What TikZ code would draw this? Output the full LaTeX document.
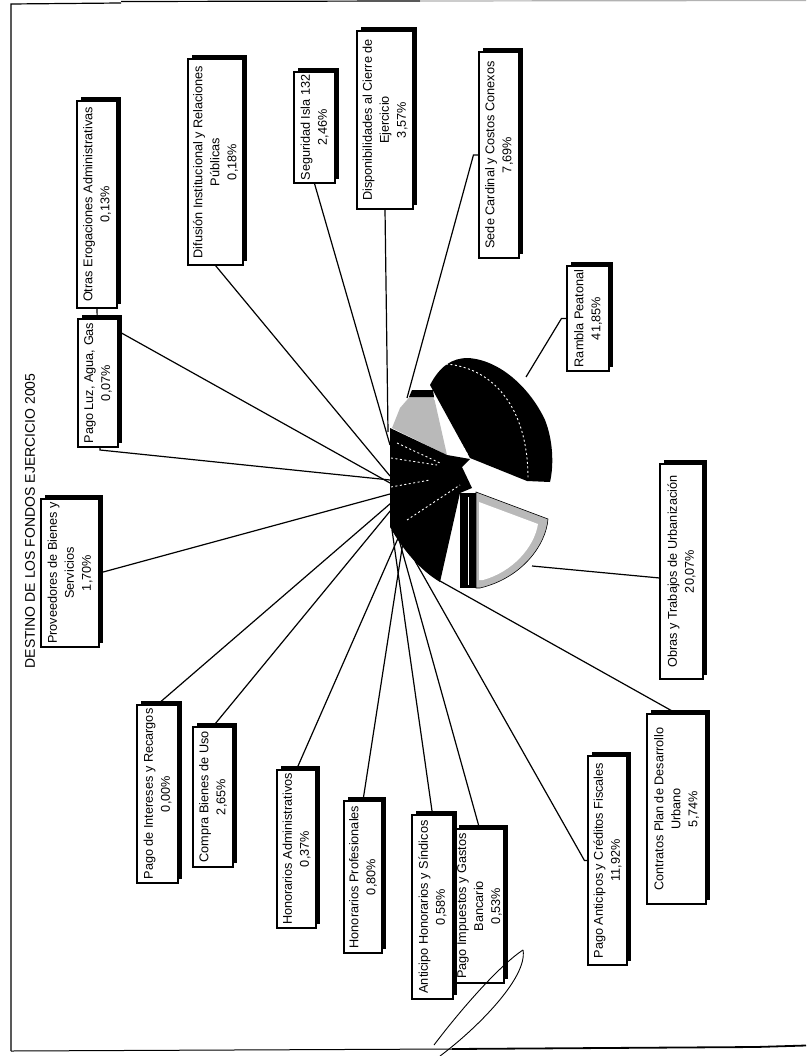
\documentclass[tikz,border=0pt]{standalone}
\usepackage{fontspec}
\setmainfont{Liberation Sans}
\usetikzlibrary{calc}
\pgfdeclarelayer{paper}
\pgfdeclarelayer{bg}
\pgfsetlayers{paper,bg,main}
\tikzset{
  lbl/.style={draw=black, line width=1.1pt, fill=white, rotate=90, inner sep=1pt,
    align=center, font=\fontsize{12.7}{17}\selectfont, text=black},
  boxshadow/.style={fill=black},
  leader/.style={draw=black, line width=1.2pt},
  pieblack/.style={fill=black},
  piehatch/.style={fill=gray!55},
  sliceedge/.style={draw=white, line width=0.9pt, dash pattern=on 2pt off 2.5pt},
  frameline/.style={draw=black, line width=1.2pt},
  scribble/.style={draw=black, line width=0.9pt},
  titletext/.style={rotate=90, inner sep=0pt, font=\fontsize{14}{16}\selectfont}
}
\newcommand{\lblbox}[6]{%
  \pgfmathsetmacro{\lbw}{#5-(#3+4)}%
  \pgfmathsetmacro{\lbh}{(#4-4)-#2}%
  \pgfmathsetmacro{\lbcx}{(#2+#4-4)/2}%
  \pgfmathsetmacro{\lbcy}{(#3+4+#5)/2}%
  \fill[boxshadow] (#2+4,#3) rectangle (#4,#5-4);%
  \node[lbl, minimum width=\lbw pt, minimum height=\lbh pt] (#1) at (\lbcx,\lbcy) {#6};%
}
\begin{document}
\begin{tikzpicture}[x=1pt,y=-1pt]
\useasboundingbox (0,0) rectangle (806,1056);
\begin{pgfonlayer}{paper}
\fill[white] (0,0) rectangle (806,1056);
\end{pgfonlayer}

% frame
\draw[frameline] (11,1051) -- (11,4) -- (121,3);
\draw[frameline] (121,1.5) -- (420,1);
\draw[gray!60, line width=1.2pt] (420,1) -- (806,0.5);
\draw[black, line width=1pt] (11,1051) -- (452,1049);
\draw[black, line width=1.8pt] (452,1049) -- (756,1047) -- (806,1045.5);

% title
\node[titletext] (title) at (30,521) {DESTINO DE LOS FONDOS EJERCICIO 2005};

% label boxes (outer extents incl. shadow: x1,y1,x2,y2)
\lblbox{otros}{77}{97}{121}{308}{Otras Erogaciones Administrativas\\0,13\%}
\lblbox{pagoluz}{78}{315}{122}{447}{Pago Luz, Agua, Gas\\0,07\%}
\lblbox{prov}{41}{495}{103}{647}{Proveedores de Bienes y\\Servicios\\1,70\%}
\lblbox{dif}{188}{55}{247}{265}{Difusión Institucional y Relaciones\\Públicas\\0,18\%}
\lblbox{seg}{294}{68}{339}{183}{Seguridad Isla 132\\2,46\%}
\lblbox{disp}{357}{27}{417}{209}{Disponibilidades al Cierre de\\Ejercicio\\3,57\%}
\lblbox{sede}{479}{48}{523}{258}{Sede Cardinal y Costos Conexos\\7,69\%}
\lblbox{ramb}{567}{262}{613}{371}{Rambla Peatonal\\41,85\%}
\lblbox{obras}{660}{460}{707}{679}{Obras y Trabajos de Urbanización\\20,07\%}
\lblbox{cont}{647}{710}{710}{904}{Contratos Plan de Desarrollo\\Urbano\\5,74\%}
\lblbox{pant}{588}{752}{631}{965}{Pago Anticipos y Créditos Fiscales\\11,92\%}
\lblbox{pimp}{455}{825}{508}{983}{Pago Impuestos y Gastos\\Bancario\\0,53\%}
\lblbox{ahon}{412}{811}{457}{999}{Anticipo Honorarios y Síndicos\\0,58\%}
\lblbox{hprof}{344}{797}{386}{953}{Honorarios Profesionales\\0,80\%}
\lblbox{hadm}{277}{766}{320}{928}{Honorarios Administrativos\\0,37\%}
\lblbox{compra}{193}{723}{237}{867}{Compra Bienes de Uso\\2,65\%}
\lblbox{pint}{137}{701}{182}{883}{Pago de Intereses y Recargos\\0,00\%}

% leader end points on the pie
\coordinate (e-otros) at (390,480);
\coordinate (otros-bend) at (100,450);
\coordinate (e-luz) at (390,483);
\coordinate (e-prov) at (390,494);
\coordinate (e-dif) at (390,476);
\coordinate (e-seg) at (390,445);
\coordinate (e-disp) at (388,432);
\coordinate (e-sede) at (407,398);
\coordinate (e-ramb) at (526,377);
\coordinate (e-obras) at (532,566);
\coordinate (e-cont) at (440,581);
\coordinate (e-pant) at (406,545);
\coordinate (e-pimp) at (398,536);
\coordinate (e-ahon) at (392,530);
\coordinate (e-hprof) at (403,542);
\coordinate (e-hadm) at (399,536);
\coordinate (e-compra) at (391,510);
\coordinate (e-pint) at (391,503);

\begin{pgfonlayer}{bg}
\draw[leader] (otros.west) -- (otros-bend) -- (e-otros);
\draw[leader] ($(pagoluz.south east)!0.1!(pagoluz.south west)$) -- (e-luz);
\draw[leader] (prov.south) -- (e-prov);
\draw[leader] (dif.west) -- (e-dif);
\draw[leader] (seg.west) -- (e-seg);
\draw[leader] (disp.west) -- (e-disp);
\draw[leader] (sede.north) -- ++(-5,0) -- (e-sede);
\draw[leader] (ramb.north) -- ++(-5,0) -- (e-ramb);
\draw[leader] ($(obras.north west)!0.47!(obras.north east)$) -- (e-obras);
\draw[leader] (cont.east) -- (e-cont);
\draw[leader] (pant.north) -- ++(-3,0) -- (e-pant);
\draw[leader] (pimp.east) -- (e-pimp);
\draw[leader] (ahon.east) -- (e-ahon);
\draw[leader] (hprof.east) -- (e-hprof);
\draw[leader] (hadm.east) -- (e-hadm);
\draw[leader] (compra.east) -- (e-compra);
\draw[leader] (pint.east) -- (e-pint);
\end{pgfonlayer}

% ---- pie ----
% hatched wedge
\fill[piehatch] (392,428) -- (400,408) -- (413,393) -- (433,393) -- (447,455) -- cycle;
\fill[pieblack] (412,390) -- (433,390) -- (434,397) -- (409,397) -- cycle;
% big exploded slice
\fill[pieblack] (470,458) -- (430,385) .. controls (440,366) and (452,358) .. (468,358)
  .. controls (500,360) and (530,388) .. (545,420)
  .. controls (553,440) and (554,465) .. (550,482) -- (527,481) -- cycle;
\draw[sliceedge] (446,364) .. controls (495,368) and (528,410) .. (528,478);
\draw[sliceedge] (434,398) -- (468,455);
% remaining slices
\fill[pieblack] (390,428) -- (447,455) -- (470,459) -- (462,467) -- (472,488) -- (460,493)
  -- (440,582) .. controls (420,570) and (403,550) .. (390,527) -- cycle;
\draw[sliceedge] (391,487) -- (430,480);
\draw[sliceedge] (407,520) -- (460,485);
\draw[sliceedge] (397,443) -- (440,463);
\draw[sliceedge] (391,458) -- (437,465);
\fill[pieblack] (460,493) rectangle (476,588);
\draw[white, line width=0.8pt] (468,497) -- (468,585);
% exploded slice (Obras)
\filldraw[piehatch, draw=black, line width=0.6pt] (476,492) -- (548,519)
  .. controls (546,545) and (522,578) .. (480,588) -- (476,588) -- cycle;
\fill[white] (479,502) -- (538,524) .. controls (534,548) and (512,572) .. (483,580) -- (479,580) -- cycle;

% pen stroke
\draw[scribble] (523,950) .. controls (500,965) and (462,1008) .. (434,1045);
\draw[scribble] (523,950) .. controls (528,978) and (475,1030) .. (440,1056);
\end{tikzpicture}
\end{document}
